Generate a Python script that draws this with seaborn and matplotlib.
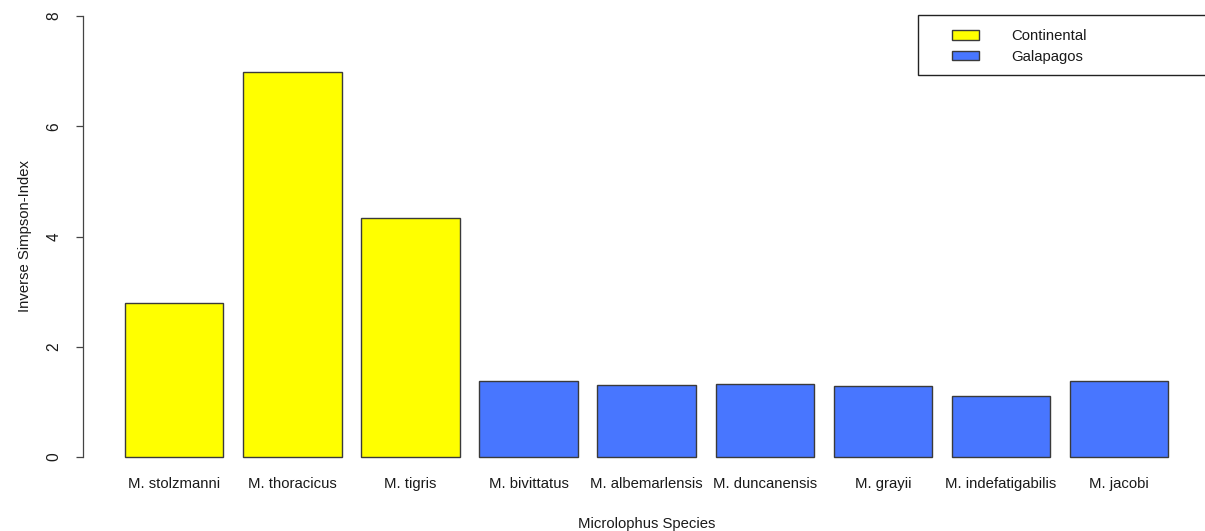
import matplotlib
matplotlib.use("Agg")
import matplotlib.pyplot as plt
from matplotlib.patches import Patch, Rectangle
import pandas as pd
import seaborn as sns

# Diversity (inverse Simpson index) per Microlophus species
species = ["M. stolzmanni", "M. thoracicus", "M. tigris", "M. bivittatus",
           "M. albemarlensis", "M. duncanensis", "M. grayii",
           "M. indefatigabilis", "M. jacobi"]
inv_simpson = [2.80, 6.98, 4.33, 1.37, 1.30, 1.33, 1.28, 1.10, 1.37]
region = ["Continental", "Continental", "Continental", "Galapagos",
          "Galapagos", "Galapagos", "Galapagos", "Galapagos", "Galapagos"]
y_ticks = [0, 2, 4, 6, 8]

palette = {"Continental": "#FFFF00", "Galapagos": "#4876FF"}
edge = "#3a3a3a"

df = pd.DataFrame({"species": species, "value": inv_simpson, "region": region})

sns.set_theme(style="white")
plt.rcParams["font.family"] = ["Liberation Sans", "DejaVu Sans"]

W, H = 1205, 531
fig = plt.figure(figsize=(W / 100, H / 100), dpi=100)
ax_left, ax_right = 83.3, 1210.0
ax_top, ax_bottom = -1.6, 474.6
ax = fig.add_axes([ax_left / W, (H - ax_bottom) / H,
                   (ax_right - ax_left) / W, (ax_bottom - ax_top) / H])

sns.barplot(data=df, x="species", y="value", hue="region", palette=palette,
            dodge=False, width=1 / 1.2, edgecolor=edge, linewidth=1.0,
            saturation=1, legend=False, ax=ax, order=species)

ax.set_xlim(-0.77, 8.77)
ax.set_ylim(-0.32, 8.32)
ax.set_yticks(y_ticks)
ax.set_yticklabels([str(t) for t in y_ticks], rotation=90, va="center")

fs = 10.7
for side in ["top", "right", "bottom"]:
    ax.spines[side].set_visible(False)
ax.spines["left"].set_bounds(0, 8)
ax.spines["left"].set_color("#444444")
ax.spines["left"].set_linewidth(0.9)
ax.tick_params(axis="y", direction="out", length=5.2, width=0.9,
               color="#444444", pad=10.5, labelsize=fs + 0.5,
               labelcolor="#1a1a1a", left=True)
ax.tick_params(axis="x", length=0, pad=1.5, labelsize=fs, labelcolor="#1a1a1a")

ax.set_xlabel("Microlophus Species", fontsize=fs, color="#1a1a1a")
ax.set_ylabel("Inverse Simpson-Index", fontsize=fs, color="#1a1a1a")
ax.xaxis.set_label_coords(0.5, (ax_bottom - 517.0) / (ax_bottom - ax_top))
ax.xaxis.label.set_va("top")
ax.yaxis.set_label_coords((32.0 - ax_left) / (ax_right - ax_left), 0.5)
ax.grid(False)

# Legend box
fig.patches.append(Rectangle((918 / W, (H - 75) / H), (1220 - 918) / W, 60 / H,
                             transform=fig.transFigure, facecolor="white",
                             edgecolor="#222222", linewidth=1.0, zorder=5))
handles = [Patch(facecolor=palette[r], edgecolor=edge, linewidth=1.0, label=r)
           for r in ["Continental", "Galapagos"]]
leg = fig.legend(handles=handles, loc="upper left",
                 bbox_to_anchor=(951.7 / W, (H - 29.5) / H),
                 frameon=False, fontsize=fs, borderpad=0, borderaxespad=0,
                 handlelength=1.84, handleheight=0.62, handletextpad=2.2,
                 labelspacing=0.42)
leg.set_zorder(6)
for t in leg.get_texts():
    t.set_color("#1a1a1a")

fig.savefig("out.png", dpi=100)
